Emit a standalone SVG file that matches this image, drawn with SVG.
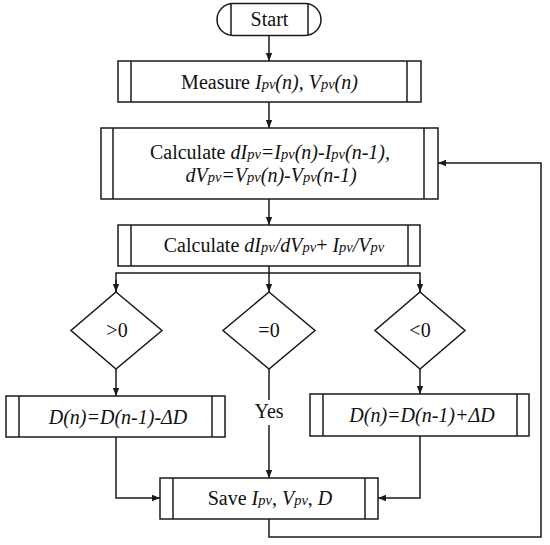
<svg xmlns="http://www.w3.org/2000/svg" width="550" height="545" viewBox="0 0 550 545">
<style>
.b{fill:#fff;stroke:#1a1a1a;stroke-width:1.5}
.l{fill:none;stroke:#1a1a1a;stroke-width:1.5}
text{font-family:"Liberation Serif","Times New Roman",serif;font-size:20px;fill:#111;text-anchor:middle}
.i{font-style:italic}
.s{font-style:italic;font-size:14.5px}
</style>
<defs>
<marker id="ar" viewBox="0 0 10 10" refX="10" refY="5" markerWidth="8" markerHeight="8" markerUnits="userSpaceOnUse" orient="auto">
<path d="M0,1 L10,5 L0,9 Z" fill="#1a1a1a"/>
</marker>
</defs>
<rect width="550" height="545" fill="#fff"/>
<g id="connectors">
<line class="l" x1="269" y1="35" x2="269" y2="61" marker-end="url(#ar)"/>
<line class="l" x1="269" y1="102" x2="269" y2="128" marker-end="url(#ar)"/>
<line class="l" x1="269" y1="199" x2="269" y2="225" marker-end="url(#ar)"/>
<polyline class="l" points="269,266 269,273"/>
<polyline class="l" points="116,292 116,273 420,273 420,292"/>
<line class="l" x1="116" y1="280" x2="116" y2="292" marker-end="url(#ar)"/>
<line class="l" x1="269" y1="273" x2="269" y2="292" marker-end="url(#ar)"/>
<line class="l" x1="420" y1="280" x2="420" y2="292" marker-end="url(#ar)"/>
<line class="l" x1="116" y1="369" x2="116" y2="396" marker-end="url(#ar)"/>
<line class="l" x1="420" y1="369" x2="420" y2="394" marker-end="url(#ar)"/>
<line class="l" x1="269" y1="369" x2="269" y2="400"/>
<line class="l" x1="269" y1="425" x2="269" y2="478" marker-end="url(#ar)"/>
<polyline class="l" points="116,437 116,498 160,498" marker-end="url(#ar)"/>
<polyline class="l" points="420,436 420,498 378,498" marker-end="url(#ar)"/>
<polyline class="l" points="269,519 269,537 541,537 541,163 438,163" marker-end="url(#ar)"/>
<text x="269" y="418">Yes</text>
</g>
<g id="start">
<rect class="b" x="217" y="3.5" width="104" height="32" rx="16" ry="16"/>
<line class="l" x1="231" y1="3.5" x2="231" y2="35.5"/>
<line class="l" x1="308" y1="3.5" x2="308" y2="35.5"/>
<text x="269.5" y="26">Start</text>
</g>
<g id="measure">
<rect class="b" x="118" y="61" width="303" height="41"/>
<line class="l" x1="131" y1="61" x2="131" y2="102"/>
<line class="l" x1="407" y1="61" x2="407" y2="102"/>
<text x="269.5" y="89">Measure  <tspan class="i">I</tspan><tspan class="s">pv</tspan><tspan class="i">(n), V</tspan><tspan class="s">pv</tspan><tspan class="i">(n)</tspan></text>
</g>
<g id="calc1">
<rect class="b" x="101" y="128" width="337" height="71"/>
<line class="l" x1="113" y1="128" x2="113" y2="199"/>
<line class="l" x1="424" y1="128" x2="424" y2="199"/>
<text x="270" y="159">Calculate <tspan class="i">dI</tspan><tspan class="s">pv</tspan><tspan class="i">=I</tspan><tspan class="s">pv</tspan><tspan class="i">(n)-I</tspan><tspan class="s">pv</tspan><tspan class="i">(n-1),</tspan></text>
<text x="271" y="182"><tspan class="i">dV</tspan><tspan class="s">pv</tspan><tspan class="i">=V</tspan><tspan class="s">pv</tspan><tspan class="i">(n)-V</tspan><tspan class="s">pv</tspan><tspan class="i">(n-1)</tspan></text>
</g>
<g id="calc2">
<rect class="b" x="118" y="225" width="302" height="41"/>
<line class="l" x1="131" y1="225" x2="131" y2="266"/>
<line class="l" x1="408" y1="225" x2="408" y2="266"/>
<text x="274" y="252">Calculate <tspan class="i">dI</tspan><tspan class="s">pv</tspan><tspan class="i">/dV</tspan><tspan class="s">pv</tspan>+ <tspan class="i">I</tspan><tspan class="s">pv</tspan><tspan class="i">/V</tspan><tspan class="s">pv</tspan></text>
</g>
<g id="gt0">
<polygon class="b" points="116,292 162,330.5 116,369 71,330.5"/>
<text x="117" y="337">&gt;0</text>
</g>
<g id="eq0">
<polygon class="b" points="269,292 315,330.5 269,369 223,330.5"/>
<text x="269" y="337">=0</text>
</g>
<g id="lt0">
<polygon class="b" points="420,292 465,330.5 420,369 375,330.5"/>
<text x="420" y="337">&lt;0</text>
</g>
<g id="dec">
<rect class="b" x="6" y="396" width="219" height="41"/>
<line class="l" x1="19" y1="396" x2="19" y2="437"/>
<line class="l" x1="212" y1="396" x2="212" y2="437"/>
<text class="i" x="118" y="424">D(n)=D(n-1)-ΔD</text>
</g>
<g id="inc">
<rect class="b" x="310" y="394" width="219" height="42"/>
<line class="l" x1="323" y1="394" x2="323" y2="436"/>
<line class="l" x1="517" y1="394" x2="517" y2="436"/>
<text class="i" x="422" y="422">D(n)=D(n-1)+ΔD</text>
</g>
<g id="save">
<rect class="b" x="160" y="478" width="218" height="41"/>
<line class="l" x1="173" y1="478" x2="173" y2="519"/>
<line class="l" x1="365" y1="478" x2="365" y2="519"/>
<text x="270" y="505">Save  <tspan class="i">I</tspan><tspan class="s">pv</tspan>, <tspan class="i">V</tspan><tspan class="s">pv</tspan>, <tspan class="i">D</tspan></text>
</g>
</svg>
